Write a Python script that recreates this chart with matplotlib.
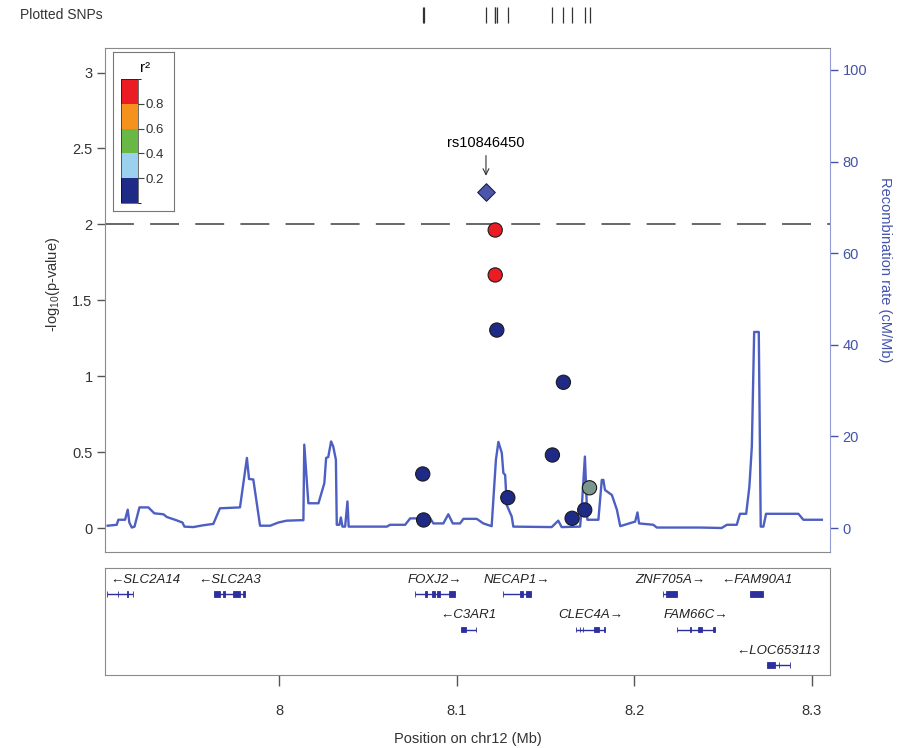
import numpy as np
import matplotlib
matplotlib.use("Agg")
import matplotlib.pyplot as plt
from matplotlib.colors import ListedColormap, BoundaryNorm
from matplotlib.cm import ScalarMappable
from matplotlib.patches import Rectangle

plt.rcParams['font.family'] = ['Liberation Sans', 'DejaVu Sans']
plt.rcParams['mathtext.fontset'] = 'custom'
plt.rcParams['mathtext.rm'] = 'Liberation Sans'

# ---- data (positions in Mb on chr12) ----
lead_name = "rs10846450"
lead_pos = 8.1165
lead_logp = 2.215

snp_pos = [8.1217, 8.1217, 8.1226, 8.1601, 8.1539, 8.0809, 8.0814, 8.1288, 8.1748, 8.1721, 8.1650]
snp_logp = [1.963, 1.667, 1.304, 0.960, 0.481, 0.356, 0.053, 0.200, 0.265, 0.119, 0.064]
snp_r2 = [0.85, 0.85, 0.1, 0.1, 0.1, 0.1, 0.1, 0.1, np.nan, 0.1, 0.1]

recomb_pos = [7.9035, 7.9086, 7.9095, 7.9133, 7.9148, 7.9157, 7.9171, 7.9186, 7.9214, 7.9264,
              7.9298, 7.9349, 7.9368, 7.9414, 7.9456, 7.9467, 7.9517, 7.9574, 7.9630, 7.9667,
              7.9780, 7.9819, 7.9831, 7.9855, 7.9893, 7.9950, 7.9996, 8.0043, 8.0118, 8.0137,
              8.0142, 8.0165, 8.0222, 8.0255, 8.0265, 8.0277, 8.0293, 8.0305, 8.0320, 8.0325,
              8.0340, 8.0348, 8.0357, 8.0372, 8.0385, 8.0392, 8.0607, 8.0625, 8.0710, 8.0738,
              8.0851, 8.0869, 8.0925, 8.0953, 8.0978, 8.1019, 8.1038, 8.1113, 8.1150, 8.1197,
              8.1221, 8.1235, 8.1254, 8.1263, 8.1273, 8.1282, 8.1310, 8.1319, 8.1535, 8.1572,
              8.1591, 8.1695, 8.1704, 8.1722, 8.1736, 8.1798, 8.1817, 8.1826, 8.1835, 8.1874,
              8.1902, 8.1921, 8.2005, 8.2018, 8.2027, 8.2107, 8.2127, 8.2371, 8.2492, 8.2521,
              8.2577, 8.2595, 8.2630, 8.2648, 8.2662, 8.2675, 8.2701, 8.2712, 8.2727, 8.2742,
              8.2924, 8.2952, 8.3056]
recomb_rate = [0.5, 0.7, 1.8, 1.8, 4.0, 1.2, 0.1, 0.3, 4.5, 4.5,
               3.2, 3.0, 2.4, 1.8, 1.2, 0.3, 0.2, 0.6, 0.9, 4.3,
               4.5, 15.3, 10.7, 10.6, 0.5, 0.5, 1.2, 1.6, 1.7, 1.7,
               18.2, 5.4, 5.4, 9.8, 15.3, 15.5, 18.9, 17.8, 14.9, 0.7,
               0.7, 2.3, 0.3, 0.3, 5.8, 0.3, 0.3, 0.7, 0.7, 2.1,
               2.1, 1.0, 1.0, 3.0, 1.0, 1.0, 2.0, 2.0, 1.0, 0.4,
               14.9, 18.8, 16.4, 12.0, 11.6, 5.0, 2.5, 0.3, 0.2, 1.6,
               0.2, 0.3, 4.3, 15.6, 1.8, 1.8, 10.5, 10.5, 8.3, 7.2,
               4.0, 0.4, 1.4, 3.4, 1.0, 0.7, 0.1, 0.1, 0.0, 0.7,
               0.7, 3.1, 3.1, 9.0, 17.8, 42.8, 42.8, 0.3, 0.3, 3.1,
               3.1, 1.8, 1.8]

gene_names = ["SLC2A14", "SLC2A3", "FOXJ2", "C3AR1", "NECAP1", "CLEC4A",
              "ZNF705A", "FAM90A1", "FAM66C", "LOC653113"]
gene_start = [7.9029, 7.9634, 8.0766, 8.1023, 8.1260, 8.1671, 8.2161, 8.2652, 8.2240, 8.2745]
gene_end = [7.9177, 7.9808, 8.0991, 8.1108, 8.1417, 8.1835, 8.2243, 8.2727, 8.2455, 8.2877]
gene_strand = ["-", "-", "+", "-", "+", "+", "+", "-", "+", "-"]
gene_row = [0, 0, 0, 1, 0, 1, 0, 0, 1, 2]
gene_exons = [
    [(7.9029, 7.9030), (7.9091, 7.9093), (7.9146, 7.9148), (7.9176, 7.9177)],
    [(7.9634, 7.9667), (7.9684, 7.9696), (7.9741, 7.9780), (7.9797, 7.9808)],
    [(8.0766, 8.0767), (8.0822, 8.0833), (8.0862, 8.0879), (8.0890, 8.0907), (8.0957, 8.0991)],
    [(8.1023, 8.1053), (8.1107, 8.1108)],
    [(8.1260, 8.1261), (8.1357, 8.1374), (8.1391, 8.1417)],
    [(8.1671, 8.1672), (8.1694, 8.1696), (8.1711, 8.1713), (8.1774, 8.1802), (8.1829, 8.1835)],
    [(8.2161, 8.2162), (8.2178, 8.2243)],
    [(8.2652, 8.2727)],
    [(8.2240, 8.2241), (8.2313, 8.2318), (8.2358, 8.2382), (8.2444, 8.2455)],
    [(8.2745, 8.2791), (8.2814, 8.2816), (8.2876, 8.2877)],
]

r2_bounds = [0, 0.2, 0.4, 0.6, 0.8, 1.0]
r2_ticks = [0.2, 0.4, 0.6, 0.8]
r2_colors = ["#1f2a86", "#9bd0ee", "#68b846", "#f5921e", "#ec1c24"]

left_ticks = [0, 0.5, 1, 1.5, 2, 2.5, 3]
left_ticklabels = ["0", "0.5", "1", "1.5", "2", "2.5", "3"]
right_ticks = [0, 20, 40, 60, 80, 100]
x_ticks = [8, 8.1, 8.2, 8.3]
x_ticklabels = ["8", "8.1", "8.2", "8.3"]
sig_line = 2.0

XLIM = (7.902, 8.3102)
W, H = 902, 748
REC_COL = "#4d5fc2"
RIGHT_COL = "#4352ac"
GENE_COL = "#2d2f9e"
FRAME = "#8a8a8a"


def box(x0, y0, x1, y1):
    # pixel box -> figure fraction rect
    return [x0 / W, 1 - y1 / H, (x1 - x0) / W, (y1 - y0) / H]


fig = plt.figure(figsize=(W / 100, H / 100), dpi=100)

# main panel
ax = fig.add_axes(box(105, 48, 830, 552))
ax2 = ax.twinx()
ax.set_zorder(ax2.get_zorder() + 1)
ax.patch.set_visible(False)

ax2.plot(recomb_pos, recomb_rate, color=REC_COL, lw=1.7)
ax2.set_ylim(-5.24, 104.8)
ax2.set_yticks(right_ticks)
ax2.tick_params(axis='y', length=6, width=1, color=RIGHT_COL, labelcolor=RIGHT_COL,
                labelsize=10.5, pad=3)
for s in ['left', 'top', 'bottom']:
    ax2.spines[s].set_visible(False)
ax2.spines['right'].set_color("#959cd2")
ax2.set_ylabel("Recombination rate (cM/Mb)", color=RIGHT_COL, fontsize=10.5,
               rotation=270, va='center')
ax2.yaxis.set_label_coords(1.076, 0.56)

cmap = ListedColormap(r2_colors)
cmap.set_bad("#7b968c")
norm = BoundaryNorm(r2_bounds, cmap.N)

ax.axhline(sig_line, color="#5a5a5a", lw=1.3, dashes=(16, 9), zorder=1)
ax.scatter(snp_pos, snp_logp, c=snp_r2, cmap=cmap, norm=norm, s=105,
           edgecolors="#1a1a1a", linewidths=0.8, plotnonfinite=True, zorder=3)
ax.scatter([lead_pos], [lead_logp], marker='D', s=80, color="#4b56a9",
           edgecolors="#1c1f55", linewidths=0.8, zorder=4)
ax.annotate(lead_name, xy=(lead_pos, 2.32), xytext=(lead_pos, 2.49),
            ha='center', va='bottom', fontsize=10.5,
            arrowprops=dict(arrowstyle='->', lw=0.8, color="#333333",
                            shrinkA=2, shrinkB=0))

ax.set_xlim(*XLIM)
ax.set_ylim(-0.158, 3.162)
ax.set_xticks([])
ax.set_yticks(left_ticks)
ax.set_yticklabels(left_ticklabels)
ax.tick_params(axis='y', length=6, width=1, color="#555555", labelcolor="#333333",
               labelsize=10.5, pad=3)
for s in ['left', 'top', 'bottom']:
    ax.spines[s].set_color(FRAME)
ax.spines['right'].set_visible(False)
ax.set_ylabel("-log$_{10}$(p-value)", fontsize=10.5, color="#333333", va='center')
ax.yaxis.set_label_coords(-0.072, 0.53)

# r2 legend
lax = fig.add_axes(box(113, 52, 174, 211))
lax.set_zorder(10)
lax.set_xticks([])
lax.set_yticks([])
for s in lax.spines.values():
    s.set_color("#777777")
lax.text(0.52, 0.9, "r²", ha='center', va='center', fontsize=11, transform=lax.transAxes)
cax = fig.add_axes(box(121, 79, 138, 203))
cax.set_zorder(11)
cb = fig.colorbar(ScalarMappable(norm=norm, cmap=cmap), cax=cax, ticks=r2_ticks)
cb.set_ticklabels([str(t) for t in r2_ticks])
cb.outline.set_linewidth(0.4)
cax.tick_params(labelsize=9.5, length=4, width=0.8, pad=1.5, color="#444444",
                labelcolor="#333333")

# plotted SNPs strip
sax = fig.add_axes(box(105, 6, 830, 24))
sax.set_xlim(*XLIM)
sax.set_ylim(0, 1)
sax.axis('off')
sax.vlines(snp_pos + [lead_pos], 0.05, 0.95, color="#333333", lw=0.9)
fig.text(20 / W, 1 - 15 / H, "Plotted SNPs", fontsize=10, va='center', ha='left',
         color="#333333")

# gene panel
gax = fig.add_axes(box(105, 568, 830, 675))
gax.set_xlim(*XLIM)
gax.set_ylim(107, 0)
gax.set_yticks([])
gax.set_xticks(x_ticks)
gax.set_xticklabels(x_ticklabels)
gax.tick_params(axis='x', length=8, width=1, color="#555555", labelcolor="#333333",
                labelsize=10.5, pad=13)
for s in gax.spines.values():
    s.set_color(FRAME)
gax.set_xlabel("Position on chr12 (Mb)", fontsize=10.5, color="#333333")
gax.xaxis.set_label_coords(0.5, -0.6)
gax.xaxis.label.set_va('center')

labels = []
for name, st, en, strand, row, exons in zip(gene_names, gene_start, gene_end,
                                            gene_strand, gene_row, gene_exons):
    gy = 26 + 35.5 * row
    gax.hlines(gy, st, en, color=GENE_COL, lw=1.0)
    for es, ee in exons:
        gax.add_patch(Rectangle((es, gy - 2.8), ee - es, 5.6, color=GENE_COL, lw=0.6))
    txt = "\u2190" + name if strand == "-" else name + "\u2192"
    t = gax.text((st + en) / 2, gy - 14, txt, ha='center', va='center',
                 fontsize=9.5, style='italic', color="#222222")
    labels.append(t)

# keep gene labels inside the panel
fig.canvas.draw()
rend = fig.canvas.get_renderer()
lo = gax.transAxes.transform((0, 0))[0] + 5
hi = gax.transAxes.transform((1, 0))[0] - 5
inv = gax.transData.inverted()
for t in labels:
    bb = t.get_window_extent(rend)
    shift = 0
    if bb.x0 < lo:
        shift = lo - bb.x0
    elif bb.x1 > hi:
        shift = hi - bb.x1
    if shift:
        x, y = t.get_position()
        xp = gax.transData.transform((x, y))[0] + shift
        t.set_x(inv.transform((xp, 0))[0])

fig.savefig("out.png", dpi=100)
